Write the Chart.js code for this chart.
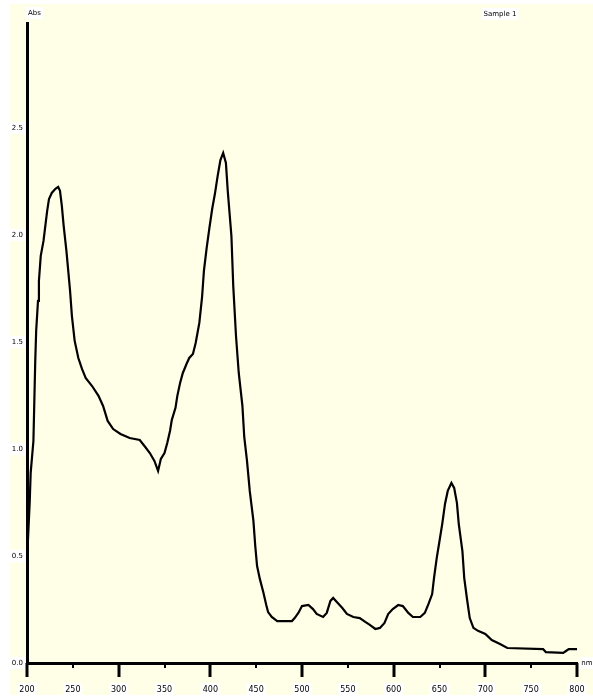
<!DOCTYPE html>
<html>
<head>
<meta charset="utf-8">
<title>Absorption spectrum</title>
<script src="https://cdn.jsdelivr.net/npm/chart.js@4/dist/chart.umd.min.js"></script>
<style>
  html, body { margin: 0; padding: 0; background: #fff; }
  canvas { display: block; }
</style>
</head>
<body>
<canvas id="spectrum" width="593" height="699"></canvas>
<script>
// spectrum samples: wavelength (nm) and absorbance
const wavelengths = [201, 203, 204, 207, 208, 209, 210, 212, 213, 215, 218, 220, 222, 224, 227, 231, 234, 236, 238, 240, 243, 245, 247, 249, 252, 256, 260, 264, 271, 278, 283, 288, 294, 302, 312, 323, 329, 334, 339, 343, 346, 350, 353, 356, 358, 362, 364, 367, 370, 374, 377, 381, 384, 388, 391, 393, 396, 399, 402, 405, 408, 411, 414, 417, 419, 423, 425, 428, 431, 435, 437, 440, 443, 447, 449, 451, 454, 458, 461, 463, 467, 473, 489, 492, 496, 500, 507, 512, 516, 523, 527, 531, 534, 538, 544, 549, 556, 563, 569, 574, 580, 585, 590, 594, 599, 605, 610, 616, 621, 629, 634, 638, 642, 644, 647, 650, 653, 656, 659, 663, 666, 669, 671, 675, 677, 680, 683, 687, 692, 700, 707, 716, 724, 763, 766, 785, 788, 791, 800];
const absorbance = [0.570, 0.757, 0.888, 1.037, 1.224, 1.411, 1.551, 1.692, 1.785, 1.902, 1.972, 2.042, 2.112, 2.168, 2.196, 2.215, 2.224, 2.206, 2.136, 2.042, 1.925, 1.832, 1.738, 1.621, 1.505, 1.425, 1.374, 1.332, 1.294, 1.248, 1.201, 1.131, 1.093, 1.070, 1.051, 1.042, 1.009, 0.981, 0.944, 0.897, 0.953, 0.981, 1.028, 1.084, 1.136, 1.192, 1.248, 1.308, 1.355, 1.397, 1.425, 1.444, 1.495, 1.589, 1.710, 1.832, 1.939, 2.033, 2.121, 2.192, 2.276, 2.350, 2.383, 2.336, 2.206, 1.995, 1.762, 1.528, 1.355, 1.201, 1.056, 0.944, 0.804, 0.664, 0.547, 0.453, 0.393, 0.327, 0.271, 0.238, 0.215, 0.196, 0.196, 0.210, 0.234, 0.266, 0.271, 0.252, 0.229, 0.215, 0.234, 0.290, 0.304, 0.285, 0.257, 0.229, 0.215, 0.210, 0.192, 0.178, 0.159, 0.164, 0.187, 0.229, 0.252, 0.271, 0.266, 0.234, 0.215, 0.215, 0.234, 0.276, 0.322, 0.397, 0.491, 0.570, 0.650, 0.743, 0.804, 0.841, 0.818, 0.748, 0.650, 0.523, 0.397, 0.299, 0.210, 0.164, 0.150, 0.136, 0.107, 0.089, 0.070, 0.065, 0.051, 0.047, 0.056, 0.065, 0.065];

const xTicks = [200, 250, 300, 350, 400, 450, 500, 550, 600, 650, 700, 750, 800];
const yTicks = [0, 0.5, 1, 1.5, 2, 2.5];
const yUnit = 'Abs';
const xUnit = 'nm';
const seriesName = 'Sample 1';

const points = wavelengths.map((w, i) => ({ x: w, y: absorbance[i] }));
const labelFont = { family: 'DejaVu Sans', size: 7 };
const xLabelFont = { family: 'DejaVu Sans', size: 8 };

// light yellow sheet behind everything
const paper = {
  id: 'paper',
  beforeDraw(chart) {
    const ctx = chart.ctx;
    ctx.save();
    ctx.fillStyle = '#fff';
    ctx.fillRect(0, 0, chart.width, chart.height);
    ctx.fillStyle = 'rgb(255,255,232)';
    ctx.fillRect(10, 4, chart.width - 10, chart.height - 8);
    ctx.restore();
  }
};

// long ticks at every 100 nm, short ones in between
const tickMarks = {
  id: 'tickMarks',
  afterDraw(chart) {
    const ctx = chart.ctx;
    const xs = chart.scales.x;
    const y0 = chart.chartArea.bottom;
    ctx.save();
    ctx.strokeStyle = '#000';
    xTicks.forEach((v, i) => {
      const px = Math.round(xs.getPixelForValue(v));
      ctx.lineWidth = i % 2 === 0 ? 3 : 2;
      ctx.beginPath();
      ctx.moveTo(px, y0);
      ctx.lineTo(px, y0 + (i % 2 === 0 ? 14 : 5));
      ctx.stroke();
    });
    ctx.restore();
  }
};

function boxedText(ctx, text, x, y, align) {
  ctx.font = labelFont.size + 'px ' + labelFont.family;
  const w = ctx.measureText(text).width;
  const left = align === 'left' ? x : x - w / 2;
  ctx.fillStyle = '#fff';
  ctx.fillRect(left - 2, y - 6, w + 4, 12);
  ctx.fillStyle = '#000';
  ctx.textBaseline = 'middle';
  ctx.textAlign = 'left';
  ctx.fillText(text, left, y);
}

// unit captions and series name
const captions = {
  id: 'captions',
  afterDraw(chart) {
    const ctx = chart.ctx;
    const area = chart.chartArea;
    ctx.save();
    boxedText(ctx, yUnit, area.left + 1, 13, 'left');
    boxedText(ctx, seriesName, 500, 14, 'center');
    boxedText(ctx, xUnit, area.right + 10, area.bottom, 'center');
    ctx.restore();
  }
};

new Chart(document.getElementById('spectrum'), {
  type: 'line',
  data: {
    datasets: [{
      label: seriesName,
      data: points,
      borderColor: '#000',
      borderWidth: 2.2,
      pointRadius: 0,
      tension: 0,
      fill: false
    }]
  },
  options: {
    responsive: false,
    animation: false,
    devicePixelRatio: 1,
    layout: { padding: { left: 0, top: 23, right: 16, bottom: 0 } },
    plugins: {
      legend: { display: false },
      tooltip: { enabled: false }
    },
    scales: {
      x: {
        type: 'linear',
        min: 200,
        max: 800,
        grid: { display: false },
        border: { display: true, color: '#000', width: 3 },
        afterBuildTicks: s => { s.ticks = xTicks.map(v => ({ value: v })); },
        afterFit: s => {
          s.height = 36;
          s.paddingLeft = 0;
          s.paddingRight = 0;
        },
        ticks: {
          font: xLabelFont,
          color: '#000',
          padding: 14,
          maxRotation: 0,
          autoSkip: false,
          showLabelBackdrop: true,
          backdropColor: '#fff',
          backdropPadding: 2
        }
      },
      y: {
        type: 'linear',
        min: 0,
        max: 2.99,
        grid: { display: false },
        border: { display: true, color: '#000', width: 3 },
        afterBuildTicks: s => { s.ticks = yTicks.map(v => ({ value: v })); },
        afterFit: s => {
          s.width = 27;
          s.paddingTop = 0;
          s.paddingBottom = 0;
        },
        ticks: {
          font: labelFont,
          color: '#000',
          padding: -4,
          callback: v => v.toFixed(1),
          showLabelBackdrop: true,
          backdropColor: '#fff',
          backdropPadding: 2
        }
      }
    }
  },
  plugins: [paper, tickMarks, captions]
});
</script>
</body>
</html>
